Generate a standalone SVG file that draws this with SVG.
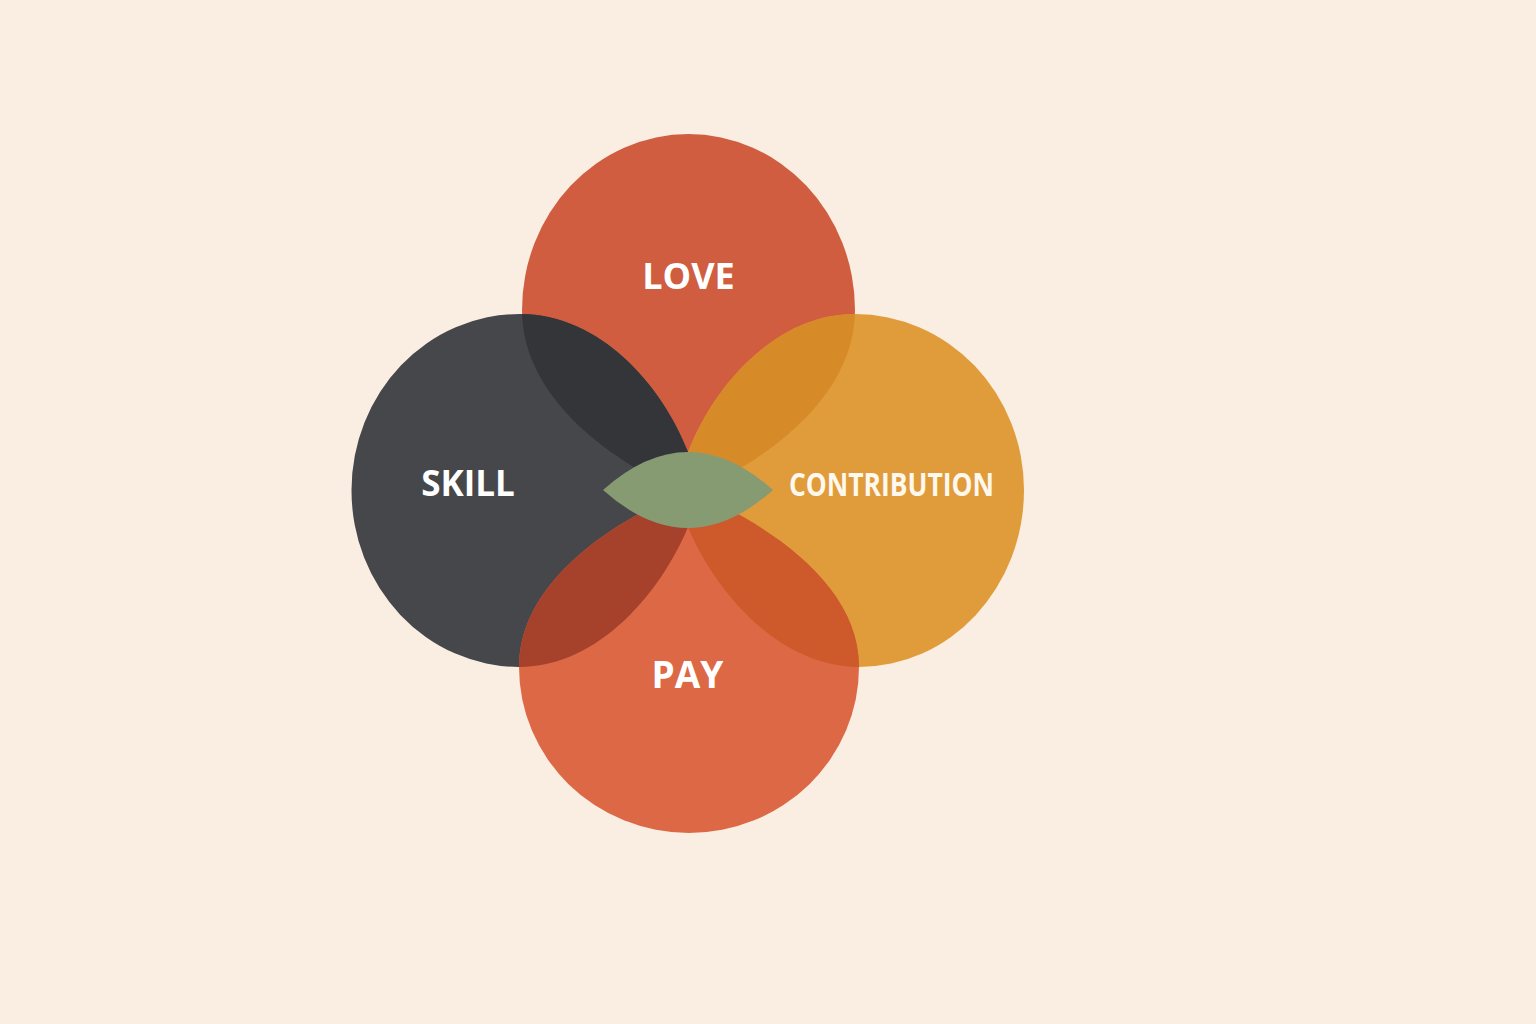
<svg xmlns="http://www.w3.org/2000/svg" xmlns:xlink="http://www.w3.org/1999/xlink" width="1536" height="1024" viewBox="0 0 1536 1024">
  <style>
    .lbl { font-family: "Open Sans", "Noto Sans", "Liberation Sans", sans-serif; font-weight: 700; fill: #FFFFFF; text-anchor: middle; }
    .narrow { font-family: "Open Sans", "Noto Sans", "Liberation Sans", sans-serif; font-weight: 700; fill: #FFF8EE; }
  </style>
  <defs>
    <path id="loveShape" d="M522,310 A166.5,176 0 0 1 855,310 C855,400 760,465 688,494 C616,465 522,400 522,310 Z"/>
    <path id="skillShape" d="M520,314 C600,314 662,385 688,452 L688,527 C662,590 600,667 519,667 A168,176.5 0 0 1 520,314 Z"/>
    <path id="contribShape" d="M855,314 A169,176 0 0 1 1024,490 A165,177 0 0 1 859,667 C778,667 714,590 688,527 L688,452 C714,385 776,314 855,314 Z"/>
    <path id="payShape" d="M519,667 C519,580 616,520 688,490 C760,520 859,580 859,667 A170,166 0 0 1 519,667 Z"/>
    <clipPath id="clipLove"><use xlink:href="#loveShape"/></clipPath>
    <clipPath id="clipPay"><use xlink:href="#payShape"/></clipPath>
  </defs>
  <rect width="1536" height="1024" fill="#FAEEE2"/>
  <g id="love">
    <use xlink:href="#loveShape" fill="#D05D40"/>
  </g>
  <g id="skill">
    <use xlink:href="#skillShape" fill="#46474B"/>
  </g>
  <g id="contribution">
    <use xlink:href="#contribShape" fill="#E09C3A"/>
  </g>
  <g id="pay">
    <use xlink:href="#payShape" fill="#DD6845"/>
  </g>
  <g id="overlaps">
    <use xlink:href="#skillShape" fill="#343539" clip-path="url(#clipLove)"/>
    <use xlink:href="#contribShape" fill="#D68A28" clip-path="url(#clipLove)"/>
    <use xlink:href="#skillShape" fill="#A6422B" clip-path="url(#clipPay)"/>
    <use xlink:href="#contribShape" fill="#CE592B" clip-path="url(#clipPay)"/>
  </g>
  <g id="center">
    <path d="M603,490 Q688,414 773,490 Q688,566 603,490 Z" fill="#879B73"/>
  </g>
  <g id="labels">
    <text class="lbl" x="688.5" y="288.5" font-size="36">LOVE</text>
    <text class="lbl" x="468" y="496" font-size="35">SKILL</text>
    <text class="lbl" x="687.5" y="687.5" font-size="37">PAY</text>
    <text class="narrow" x="789" y="496" font-size="32.5" textLength="205" lengthAdjust="spacingAndGlyphs">CONTRIBUTION</text>
  </g>
</svg>
